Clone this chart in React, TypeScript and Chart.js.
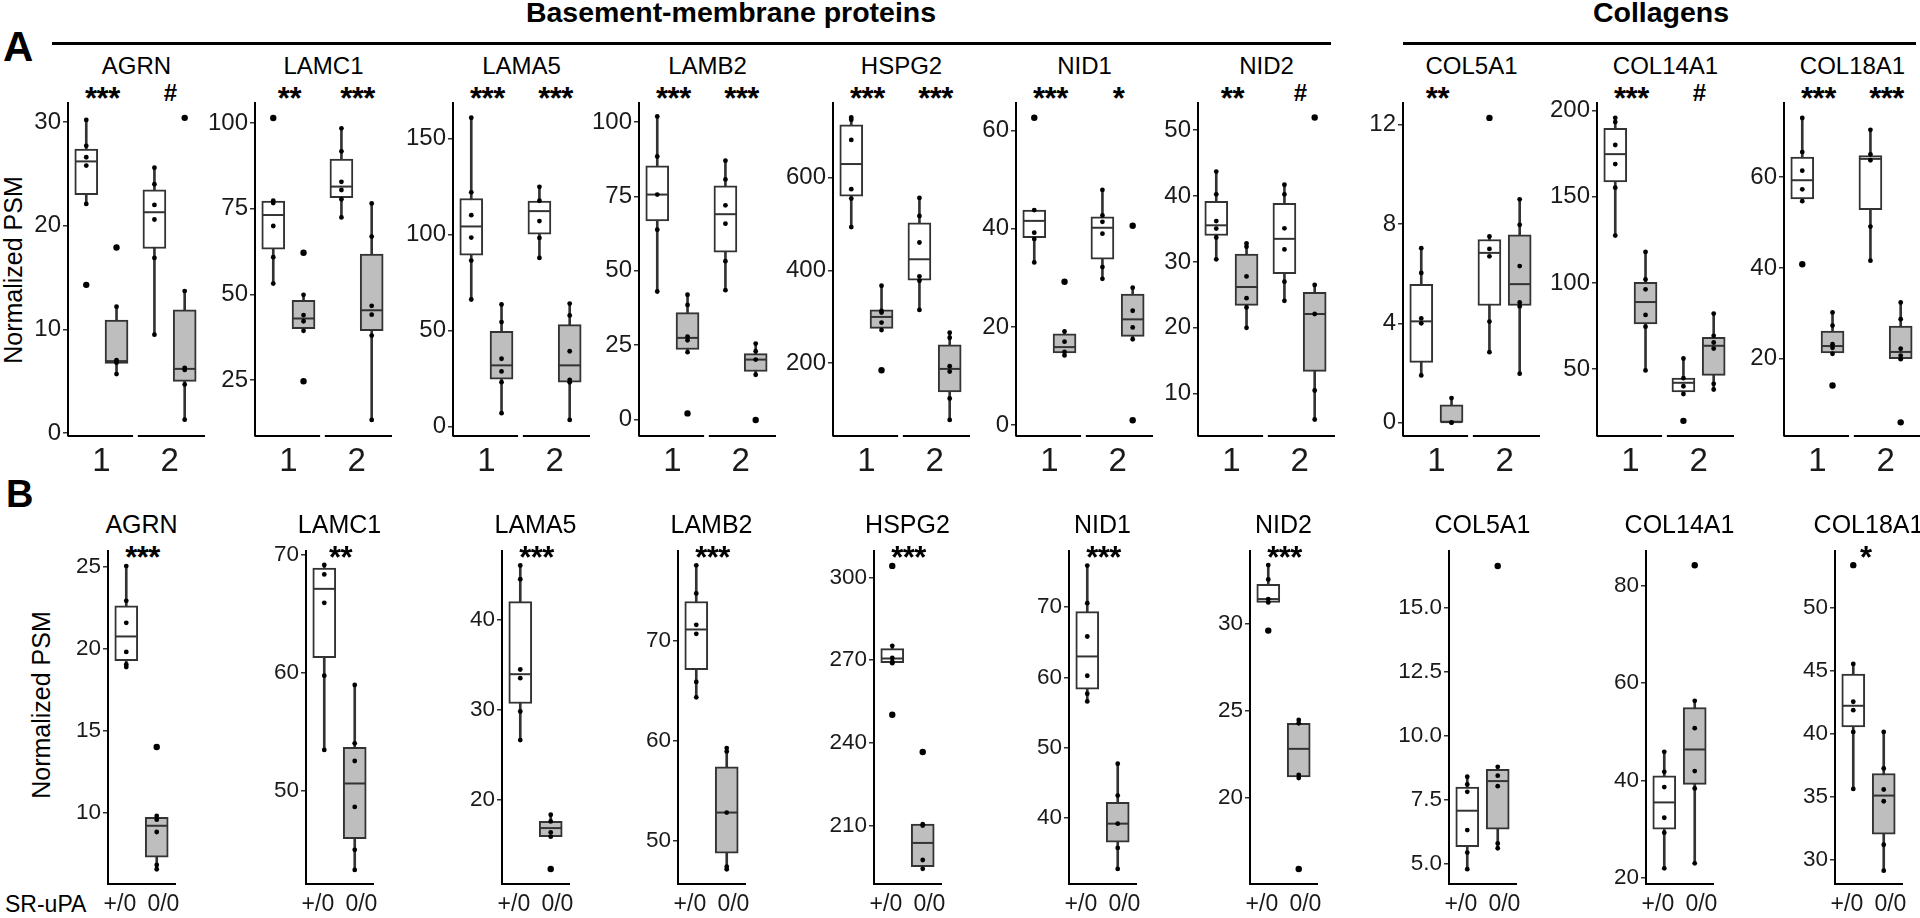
import React, { useEffect, useRef } from 'react';
import { Chart, registerables } from 'chart.js';
Chart.register(...registerables);

const FONT = '"Liberation Sans", Arial, Helvetica, sans-serif';

// ---------- categories / labels ----------
const genes = ['AGRN', 'LAMC1', 'LAMA5', 'LAMB2', 'HSPG2', 'NID1', 'NID2', 'COL5A1', 'COL14A1', 'COL18A1'];
const groupLabelsA = ['1', '2'];
const genotypeLabels = ['+/0', '0/0'];
const sigA = [['***', '#'], ['**', '***'], ['***', '***'], ['***', '***'], ['***', '***'], ['***', '*'], ['**', '#'], ['**', ''], ['***', '#'], ['***', '***']];
const sigB = ['***', '**', '***', '***', '***', '***', '***', '', '', '*'];

// ---------- panel A data: [lowerWhisker, Q1, median, Q3, upperWhisker] per box (1:+/0, 1:0/0, 2:+/0, 2:0/0) ----------
const A_AGRN_box = [[22.1, 23.0, 26.2, 27.4, 30.2], [5.7, 6.73, 6.95, 10.9, 12.2], [9.5, 17.8, 21.3, 23.45, 25.6], [1.3, 5.0, 6.2, 11.9, 13.7]];
const A_AGRN_pts = [[30.2, 27.7, 26.6, 25.8, 22.1], [12.2, 7.05, 6.9, 6.8, 5.7], [25.6, 24.0, 22.0, 20.6, 16.9, 9.5], [13.7, 6.3, 6.1, 4.7, 1.3]];
const A_AGRN_out = [[14.3], [17.9], [], [30.4]];

const A_LAMC1_box = [[53.2, 63.2, 73.2, 77.25, 77.4], [39.4, 40.0, 43.0, 48.3, 49.9], [72.5, 78.3, 81.5, 89.55, 98.5], [13.4, 39.45, 45.4, 61.8, 76.6]];
const A_LAMC1_pts = [[77.4, 76.7, 70.0, 60.9, 53.2], [49.9, 44.0, 42.2, 39.4], [98.5, 91.8, 82.9, 80.5, 77.8, 72.5], [76.6, 66.9, 46.7, 44.1, 38.0, 13.4]];
const A_LAMC1_out = [[101.5], [62.2, 24.7], [], []];

const A_LAMA5_box = [[66.2, 89.3, 104.3, 118.9, 161], [6.9, 24.7, 31.85, 49.65, 63.6], [87.9, 100.3, 112.3, 117.5, 125], [3.4, 23.1, 31.85, 53.1, 64.1]];
const A_LAMA5_pts = [[161, 122.1, 110.2, 98.5, 86.5, 66.2], [63.6, 54.4, 35.3, 28.7, 23.1, 6.9], [125, 117.7, 107.1, 98.3, 87.9], [64.1, 57.9, 39.2, 24.3, 23.0, 3.4]];
const A_LAMA5_out = [[], [], [], []];

const A_LAMB2_box = [[43.0, 66.7, 75.6, 85.3, 101.9], [22.6, 23.5, 27.4, 35.9, 41.9], [43.45, 56.2, 69.0, 78.55, 87.0], [15.0, 16.1, 20.1, 22.1, 25.5]];
const A_LAMB2_pts = [[101.9, 88.4, 75.6, 63.8, 43.0], [41.9, 38.5, 27.8, 26.6, 22.6], [87.0, 80.7, 72.0, 65.8, 53.2, 43.45], [25.5, 22.9, 20.1, 15.0]];
const A_LAMB2_out = [[], [2.0], [], [-0.2]];

const A_HSPG2_box = [[493.5, 560.1, 629.7, 714.5, 730.4], [271, 274.6, 299.3, 314.5, 366.7], [314.5, 379, 423.9, 502.9, 556.5], [76.8, 137, 187, 239.1, 265.2]];
const A_HSPG2_pts = [[730.4, 725.4, 681.9, 575.4, 555.1, 493.5], [366.7, 312.3, 308.7, 287, 271], [556.5, 517.4, 460.1, 387, 377.5, 314.5], [265.2, 254.3, 192.8, 181.2, 123.2, 76.8]];
const A_HSPG2_out = [[], [184.1], [], []];

const A_NID1_box = [[33.15, 38.2, 41.6, 43.8, 43.8], [14.2, 14.7, 15.9, 18.6, 19.1], [29.8, 33.8, 40.2, 42.4, 47.9], [17.5, 18.1, 21.55, 26.7, 28.0]];
const A_NID1_pts = [[43.8, 39.2, 37.9, 33.15], [19.1, 17.0, 14.9, 14.2], [47.9, 42.7, 41.4, 39.0, 32.2, 29.8], [28.0, 23.3, 19.9, 17.5]];
const A_NID1_out = [[62.6], [29.2], [], [40.6, 1.0]];

const A_NID2_box = [[30.4, 34.0, 35.55, 39.2, 43.7], [20.0, 23.4, 26.2, 31.2, 32.8], [24.1, 28.2, 33.5, 38.9, 41.7], [6.1, 13.4, 22.1, 25.4, 26.5]];
const A_NID2_pts = [[43.7, 40.25, 36.2, 35.05, 33.7, 30.4], [32.8, 32.3, 27.8, 24.5, 23.1, 20.0], [41.7, 40.25, 35.1, 31.9, 27.0, 24.1], [26.5, 22.1, 10.5, 6.1]];
const A_NID2_out = [[], [], [], [51.9]];

const A_COL5A1_box = [[1.9, 2.43, 4.08, 5.57, 7.03], [0.0, 0.01, 0.02, 0.72, 0.99], [2.84, 4.72, 6.84, 7.38, 7.5], [1.97, 4.72, 5.58, 7.57, 9.0]];
const A_COL5A1_pts = [[7.03, 6.03, 4.2, 4.0, 1.9], [0.99, 0.0, 0.0], [7.5, 7.0, 6.7, 4.07, 2.84], [9.0, 7.97, 6.31, 4.84, 4.68, 1.97]];
const A_COL5A1_out = [[], [], [12.28], []];

const A_COL14A1_box = [[127.5, 158.6, 174.8, 189.8, 195.9], [49.2, 76.2, 88.9, 100.4, 118], [35.5, 36.7, 42, 44.7, 56.1], [38.1, 46.3, 63.5, 68.4, 82.2]];
const A_COL14A1_pts = [[195.9, 193.4, 180.1, 169, 155.3, 127.5], [118, 102, 96.3, 81.4, 74.6, 49.2], [56.1, 44.7, 40.0, 35.5], [82.2, 69.3, 65.4, 61.9, 41.4, 38.1]];
const A_COL14A1_out = [[], [], [19.9], []];

const A_COL18A1_box = [[54.7, 55.2, 59.3, 64.4, 73.0], [21.1, 21.3, 22.8, 26.1, 30.2], [41.6, 52.8, 64.0, 64.7, 70.4], [20.0, 20.0, 21.5, 27.2, 32.4]];
const A_COL18A1_pts = [[73, 65.5, 61.4, 57.3, 54.7], [30.2, 27.3, 23.2, 22.4, 21.1], [70.4, 65, 63.7, 49.1, 41.6], [32.4, 28.7, 22.2, 20.7, 19.9]];
const A_COL18A1_out = [[40.8], [14.1], [], [6.0]];

// ---------- panel B data: boxes (+/0, 0/0) ----------
const B_AGRN_box = [[18.95, 19.3, 20.77, 22.64, 25.06], [6.58, 7.31, 9.23, 9.75, 9.83]];
const B_AGRN_pts = [[25.06, 22.94, 21.6, 19.83, 19.06, 18.91], [9.83, 9.6, 8.85, 6.84, 6.58]];
const B_AGRN_out = [[], [14.03]];

const B_LAMC1_box = [[53.46, 61.27, 67.08, 68.84, 69.1], [43.31, 45.95, 50.62, 53.68, 58.95]];
const B_LAMC1_pts = [[69.1, 68.3, 65.9, 59.74, 53.46], [58.95, 54.02, 52.52, 48.64, 45.01, 43.31]];
const B_LAMC1_out = [[], []];

const B_LAMA5_box = [[26.67, 30.74, 34.0, 42.07, 46.1], [15.93, 15.93, 16.89, 17.63, 18.37]];
const B_LAMA5_pts = [[46.1, 44.56, 34.52, 33.56, 29.85, 26.67], [18.37, 17.63, 16.41, 15.93]];
const B_LAMA5_out = [[], [12.33]];

const B_LAMB2_box = [[64.34, 67.1, 71.1, 73.89, 77.49], [47.2, 48.8, 52.86, 57.42, 59.28]];
const B_LAMB2_pts = [[77.49, 74.69, 71.56, 70.67, 65.87, 64.34], [59.28, 58.95, 52.86, 47.47, 47.2]];
const B_LAMB2_out = [[], []];

const B_HSPG2_box = [[268.9, 269.1, 270.6, 274.2, 275.2], [194.3, 195.1, 203.7, 210.5, 210.5]];
const B_HSPG2_pts = [[275.2, 270.8, 269.4, 268.9], [210.5, 210.0, 197.5, 194.3]];
const B_HSPG2_out = [[304.2, 250.2], [236.7]];

const B_NID1_box = [[56.59, 58.34, 62.99, 69.38, 75.92], [32.75, 36.54, 39.19, 42.23, 47.73]];
const B_NID1_pts = [[75.92, 70.57, 65.83, 60.24, 57.68, 56.59], [47.73, 43.18, 39.19, 35.73, 32.75]];
const B_NID1_out = [[], []];

const B_NID2_box = [[31.24, 31.24, 31.43, 32.28, 33.38], [21.15, 21.22, 22.83, 24.3, 24.49]];
const B_NID2_pts = [[33.38, 32.56, 31.43, 31.24], [24.49, 24.3, 21.34, 21.15]];
const B_NID2_out = [[29.62], [15.93]];

const B_COL5A1_box = [[4.77, 5.65, 7.06, 7.99, 8.39], [5.59, 6.34, 8.22, 8.68, 8.78]];
const B_COL5A1_pts = [[8.39, 8.09, 7.8, 6.3, 5.42, 4.77], [8.78, 8.43, 8.02, 5.78, 5.59]];
const B_COL5A1_out = [[], [16.64]];

const B_COL14A1_box = [[21.92, 30.0, 35.48, 40.96, 45.89], [22.95, 39.18, 46.37, 55.0, 56.37]];
const B_COL14A1_pts = [[45.89, 41.78, 38.63, 32.33, 29.25, 21.92], [56.37, 50.75, 41.92, 38.36, 22.95]];
const B_COL14A1_out = [[], [84.25]];

const B_COL18A1_box = [[35.63, 40.54, 42.22, 44.74, 45.54], [29.15, 32.05, 35.1, 36.85, 40.15]];
const B_COL18A1_pts = [[45.54, 42.54, 41.87, 40.15, 35.63], [40.15, 37.25, 35.58, 34.65, 31.2, 29.15]];
const B_COL18A1_out = [[53.37], []];

// ---------- axes ----------
const A_yMin = [-0.27, 8.7, -5.0, -5.6, 42, -2.2, 3.6, -0.54, 11.1, 3.0];
const A_yMax = [31.83, 105.9, 168.7, 106.4, 761.6, 65.6, 54.1, 12.88, 204.5, 76.3];
const A_yTicks = [[0, 10, 20, 30], [25, 50, 75, 100], [0, 50, 100, 150], [0, 25, 50, 75, 100], [200, 400, 600], [0, 20, 40, 60], [10, 20, 30, 40, 50], [0, 4, 8, 12], [50, 100, 150, 200], [20, 40, 60]];
const B_yMin = [5.68, 42.12, 10.67, 45.74, 188.8, 30.6, 15.07, 4.19, 18.7, 28.09];
const B_yMax = [25.98, 70.28, 47.7, 78.92, 309.6, 78.0, 34.19, 17.23, 87.19, 54.49];
const B_yTicks = [[10, 15, 20, 25], [50, 60, 70], [20, 30, 40], [50, 60, 70], [210, 240, 270, 300], [40, 50, 60, 70], [20, 25, 30], [5, 7.5, 10, 12.5, 15], [20, 40, 60, 80], [30, 35, 40, 45, 50]];
const B_yDec = [0, 0, 0, 0, 0, 0, 0, 1, 0, 0];

const A_box = [A_AGRN_box, A_LAMC1_box, A_LAMA5_box, A_LAMB2_box, A_HSPG2_box, A_NID1_box, A_NID2_box, A_COL5A1_box, A_COL14A1_box, A_COL18A1_box];
const A_pts = [A_AGRN_pts, A_LAMC1_pts, A_LAMA5_pts, A_LAMB2_pts, A_HSPG2_pts, A_NID1_pts, A_NID2_pts, A_COL5A1_pts, A_COL14A1_pts, A_COL18A1_pts];
const A_out = [A_AGRN_out, A_LAMC1_out, A_LAMA5_out, A_LAMB2_out, A_HSPG2_out, A_NID1_out, A_NID2_out, A_COL5A1_out, A_COL14A1_out, A_COL18A1_out];
const B_box = [B_AGRN_box, B_LAMC1_box, B_LAMA5_box, B_LAMB2_box, B_HSPG2_box, B_NID1_box, B_NID2_box, B_COL5A1_box, B_COL14A1_box, B_COL18A1_box];
const B_pts = [B_AGRN_pts, B_LAMC1_pts, B_LAMA5_pts, B_LAMB2_pts, B_HSPG2_pts, B_NID1_pts, B_NID2_pts, B_COL5A1_pts, B_COL14A1_pts, B_COL18A1_pts];
const B_out = [B_AGRN_out, B_LAMC1_out, B_LAMA5_out, B_LAMB2_out, B_HSPG2_out, B_NID1_out, B_NID2_out, B_COL5A1_out, B_COL14A1_out, B_COL18A1_out];

// ---------- layout ----------
const A_axisX = [68, 255, 453, 639, 833, 1016, 1198, 1403, 1597, 1784];
const B_axisX = [108, 306, 502, 678, 874, 1069, 1250, 1449, 1646, 1835];
const A_TOP = 103, A_H = 333, A_W = 137;
const B_TOP = 551, B_H = 333, B_W = 67;
const A_xMin = 0.51, A_xMax = 2.52;
const B_xMin = 0.4, B_xMax = 2.6;
const A_boxX = [0.778, 1.222, 1.778, 2.222];
const B_boxX = [1, 2];
const A_xTickPos = [1, 2];
const B_xTickPos = [0.79, 2.22];
const B_sigX = [1.5, 1.5, 1.5, 1.5, 1.5, 1.5, 1.5, 1.5, 1.5, 1.38];
const WHITE = '#ffffff', GREY = '#bebebe', EDGE = '#333333';

function BoxPanel(p: any) {
  const ref = useRef<HTMLCanvasElement>(null);
  const YW = 60, RP = 22, TP = 22;
  const XH = p.split ? 50 : 34;
  const W = YW + p.plotW + RP;
  const H = TP + p.plotH + XH;
  useEffect(() => {
    const toPts = (lists: number[][]) => lists.flatMap((l, i) => l.map((v) => ({ x: p.boxX[i], y: v })));
    const splitAxis = {
      id: 'splitAxis',
      afterDatasetsDraw(chart: any) {
        if (!p.split) return;
        const { ctx, chartArea, scales } = chart;
        const x = scales.x;
        ctx.save();
        ctx.strokeStyle = '#000';
        ctx.lineWidth = 2;
        const segs = [[p.xMin, 1.465], [1.535, p.xMax]];
        for (const [a, b] of segs) {
          ctx.beginPath();
          ctx.moveTo(x.getPixelForValue(a), chartArea.bottom);
          ctx.lineTo(x.getPixelForValue(b), chartArea.bottom);
          ctx.stroke();
        }
        ctx.restore();
      },
    };
    const chart = new Chart(ref.current as HTMLCanvasElement, {
      type: 'bar',
      data: {
        datasets: [
          { type: 'bar', data: p.box.map((s: number[], i: number) => ({ x: p.boxX[i], y: [s[0], s[4]] })), backgroundColor: EDGE, borderWidth: 0, barThickness: 2, grouped: false, order: 4, clip: false },
          { type: 'bar', data: p.box.map((s: number[], i: number) => ({ x: p.boxX[i], y: [s[1], s[3]] })), backgroundColor: p.fills, borderColor: EDGE, borderWidth: 2, borderSkipped: false, barThickness: 23, grouped: false, order: 3, clip: false },
          { type: 'line', data: p.box.map((s: number[], i: number) => ({ x: p.boxX[i], y: s[2] })), showLine: false, pointStyle: 'line', pointRadius: 10.5, pointBorderWidth: 2, pointBorderColor: EDGE, pointBackgroundColor: EDGE, order: 2, clip: false },
          { type: 'line', data: toPts(p.pts), showLine: false, pointStyle: 'circle', pointRadius: 2.4, pointBorderWidth: 0, pointBackgroundColor: '#000', order: 1, clip: false },
          { type: 'line', data: toPts(p.out), showLine: false, pointStyle: 'circle', pointRadius: 3.2, pointBorderWidth: 0, pointBackgroundColor: '#000', order: 0, clip: false },
        ] as any,
      },
      options: {
        responsive: false,
        maintainAspectRatio: false,
        animation: false,
        events: [],
        layout: { padding: { top: TP, right: RP, left: 0, bottom: 0 } },
        plugins: { legend: { display: false }, tooltip: { enabled: false } },
        scales: {
          x: {
            type: 'linear', min: p.xMin, max: p.xMax, offset: false, bounds: 'data',
            grid: { display: false, drawTicks: false },
            border: { display: !p.split, color: '#000', width: 2 },
            afterBuildTicks: (s: any) => { s.ticks = p.xTickPos.map((v: number) => ({ value: v })); },
            afterFit: (s: any) => { s.height = XH; },
            ticks: { autoSkip: false, maxRotation: 0, minRotation: 0, padding: p.xPad, color: '#1a1a1a', font: { family: FONT, size: p.xFont }, callback: (_v: any, i: number) => p.xLabels[i] },
          },
          y: {
            type: 'linear', min: p.yMin, max: p.yMax, bounds: 'data', beginAtZero: false,
            grid: { display: true, drawOnChartArea: false, drawTicks: true, tickLength: 5, color: EDGE, lineWidth: 1.5 },
            border: { display: true, color: '#000', width: 2 },
            afterBuildTicks: (s: any) => { s.ticks = p.yTicks.map((v: number) => ({ value: v })); },
            afterFit: (s: any) => { s.width = YW; },
            ticks: { padding: 2, color: '#1a1a1a', font: { family: FONT, size: p.yFont }, callback: (v: any) => Number(v).toFixed(p.yDec) },
          },
        },
      } as any,
      plugins: [splitAxis],
    });
    return () => chart.destroy();
  }, []);
  return (
    <canvas ref={ref} width={W} height={H}
      style={{ position: 'absolute', left: p.axisX - YW, top: p.axisTop - TP, width: W, height: H, display: 'block' }} />
  );
}

function Txt(p: any) {
  const size = p.size;
  const tr = p.align === 'left' ? undefined : 'translateX(-50%)';
  return (
    <div style={{ position: 'absolute', left: p.x, top: p.y - 0.8465 * size, fontSize: size, lineHeight: `${size}px`, fontWeight: p.bold ? 700 : 400, fontFamily: FONT, whiteSpace: 'nowrap', transform: tr, letterSpacing: p.ls, color: '#000' }}>{p.children}</div>
  );
}

function VTxt(p: any) {
  return (
    <div style={{ position: 'absolute', left: p.x, top: p.y, fontSize: p.size, lineHeight: `${p.size}px`, fontFamily: FONT, whiteSpace: 'nowrap', transform: 'translate(-50%,-50%) rotate(-90deg)', color: '#000' }}>{p.children}</div>
  );
}

function Sig({ x, y, s }: any) {
  if (!s) return null;
  if (s === '#') return <Txt x={x + 1} y={y - 7} size={24} bold>#</Txt>;
  return <Txt x={x + 1} y={y + 1} size={31} bold ls={-0.5}>{s}</Txt>;
}

export default function App() {
  const aUnit = A_W / (A_xMax - A_xMin);
  const bUnit = B_W / (B_xMax - B_xMin);
  return (
    <div style={{ position: 'fixed', left: 0, top: 0, width: 1920, height: 918, background: '#fff', overflow: 'hidden' }}>
      <Txt x={3} y={62} size={42} bold align="left">A</Txt>
      <Txt x={6} y={507} size={38} bold align="left">B</Txt>
      <Txt x={731} y={22} size={28.5} bold>Basement-membrane proteins</Txt>
      <Txt x={1661} y={22} size={28.5} bold>Collagens</Txt>
      <div style={{ position: 'absolute', left: 52, top: 41.5, width: 1279, height: 3, background: '#000' }} />
      <div style={{ position: 'absolute', left: 1403, top: 41.5, width: 513, height: 3, background: '#000' }} />
      <VTxt x={13} y={270} size={25}>Normalized PSM</VTxt>
      <VTxt x={41} y={705} size={25}>Normalized PSM</VTxt>
      <Txt x={5} y={912} size={23} align="left">SR-uPA</Txt>

      {genes.map((g, i) => (
        <React.Fragment key={'A' + g}>
          <Txt x={A_axisX[i] + A_W / 2} y={74} size={24}>{g}</Txt>
          <Sig x={A_axisX[i] + (1 - A_xMin) * aUnit} y={108} s={sigA[i][0]} />
          <Sig x={A_axisX[i] + (2 - A_xMin) * aUnit} y={108} s={sigA[i][1]} />
          <BoxPanel axisX={A_axisX[i]} axisTop={A_TOP} plotW={A_W} plotH={A_H}
            yMin={A_yMin[i]} yMax={A_yMax[i]} yTicks={A_yTicks[i]} yDec={0} yFont={24}
            xMin={A_xMin} xMax={A_xMax} xTickPos={A_xTickPos} xLabels={groupLabelsA} xFont={33} xPad={6}
            boxX={A_boxX} fills={[WHITE, GREY, WHITE, GREY]} box={A_box[i]} pts={A_pts[i]} out={A_out[i]} split={true} />
        </React.Fragment>
      ))}

      {genes.map((g, i) => (
        <React.Fragment key={'B' + g}>
          <Txt x={B_axisX[i] + B_W / 2} y={533} size={25}>{g}</Txt>
          <Sig x={B_axisX[i] + (B_sigX[i] - B_xMin) * bUnit} y={567} s={sigB[i]} />
          <BoxPanel axisX={B_axisX[i]} axisTop={B_TOP} plotW={B_W} plotH={B_H}
            yMin={B_yMin[i]} yMax={B_yMax[i]} yTicks={B_yTicks[i]} yDec={B_yDec[i]} yFont={22.5}
            xMin={B_xMin} xMax={B_xMax} xTickPos={B_xTickPos} xLabels={genotypeLabels} xFont={23} xPad={7}
            boxX={B_boxX} fills={[WHITE, GREY]} box={B_box[i]} pts={B_pts[i]} out={B_out[i]} split={false} />
        </React.Fragment>
      ))}
    </div>
  );
}
